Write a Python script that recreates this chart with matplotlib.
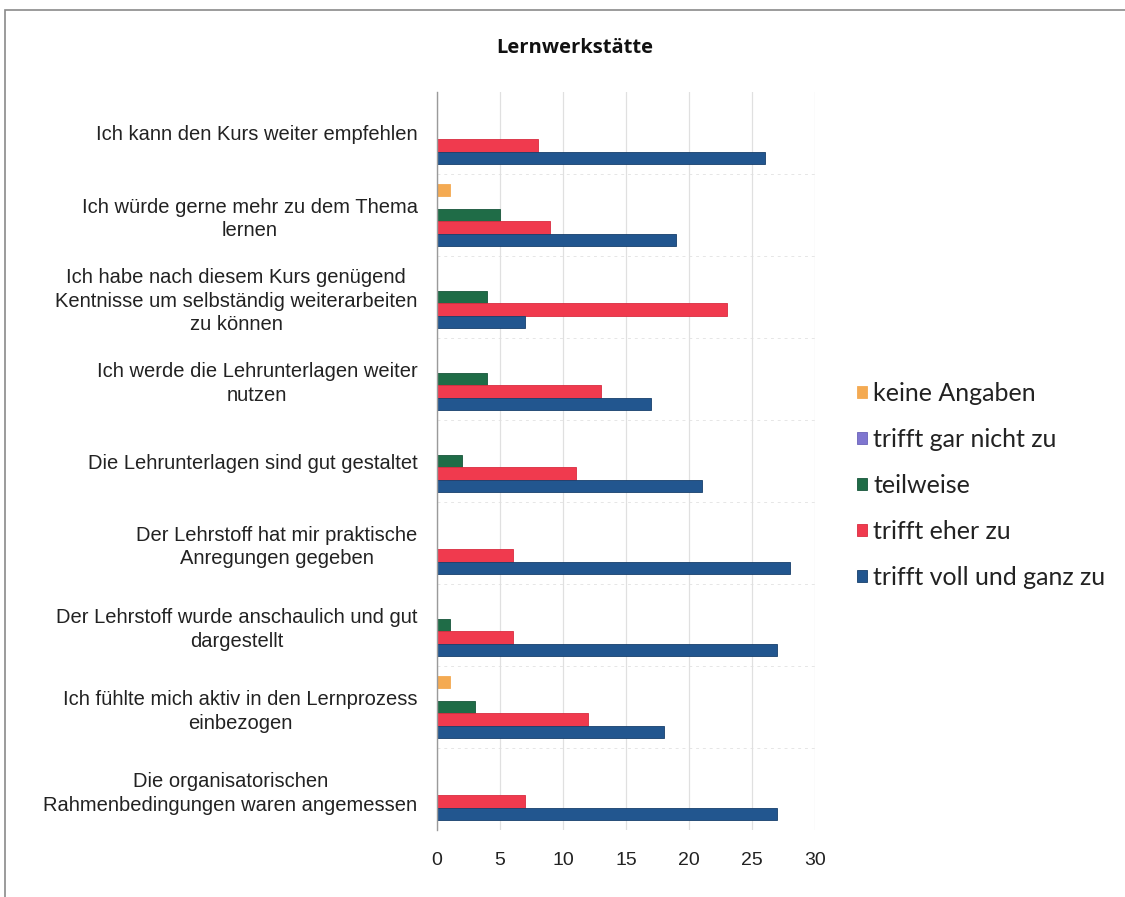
import numpy as np
import matplotlib.pyplot as plt
from matplotlib.patches import Rectangle

# Survey statements, listed top to bottom
statements = [
    "Ich kann den Kurs weiter empfehlen",
    "Ich würde gerne mehr zu dem Thema\nlernen",
    "Ich habe nach diesem Kurs genügend\nKentnisse um selbständig weiterarbeiten\nzu können",
    "Ich werde die Lehrunterlagen weiter\nnutzen",
    "Die Lehrunterlagen sind gut gestaltet",
    "Der Lehrstoff hat mir praktische\nAnregungen gegeben",
    "Der Lehrstoff wurde anschaulich und gut\ndargestellt",
    "Ich fühlte mich aktiv in den Lernprozess\neinbezogen",
    "Die organisatorischen\nRahmenbedingungen waren angemessen",
]

keine_angaben = [0, 1, 0, 0, 0, 0, 0, 1, 0]
gar_nicht = [0, 0, 0, 0, 0, 0, 0, 0, 0]
teilweise = [0, 5, 4, 4, 2, 0, 1, 3, 0]
eher_zu = [8, 9, 23, 13, 11, 6, 6, 12, 7]
voll_zu = [26, 19, 7, 17, 21, 28, 27, 18, 27]

series_names = ["keine Angaben", "trifft gar nicht zu", "teilweise",
                "trifft eher zu", "trifft voll und ganz zu"]
series_vals = [keine_angaben, gar_nicht, teilweise, eher_zu, voll_zu]
colors = ["#F4AA52", "#7F76D0", "#1F6C47", "#F03A4E", "#22568F"]
edges = ["#F4AA52", "#6A62B8", "#17553A", "#D82C40", "#173F6C"]

fig = plt.figure(figsize=(11.25, 8.97), dpi=100)
fig.patch.set_facecolor("white")

# chart-area frame (top and left edges visible)
fig.add_artist(Rectangle((5 / 1125, -0.1), 1.2, 1 - 10 / 897 + 0.1,
                         transform=fig.transFigure, fill=False,
                         edgecolor="#8a8a8a", linewidth=1.2))

ax = fig.add_axes([437 / 1125, 1 - 830 / 897, (815 - 437) / 1125, (830 - 92) / 897])

y = np.arange(len(statements))
h = 0.152
for j, (name, vals) in enumerate(zip(series_names, series_vals)):
    ax.barh(y + (j - 2) * h, vals, height=h, color=colors[j],
            edgecolor=edges[j], linewidth=0.6, label=name)

ax.set_xlim(0, 30)
ax.set_ylim(len(statements) - 0.5, -0.5)
ax.set_xticks(range(0, 31, 5))
ax.set_yticks(y)
ax.set_yticklabels(statements, multialignment="center", linespacing=1.3,
                   fontfamily="Liberation Sans", fontsize=14.5, color="#222222")
ax.tick_params(axis="y", length=0, pad=14)
ax.tick_params(axis="x", length=0, pad=16, labelsize=14, labelcolor="#222222")
for lbl in ax.get_xticklabels():
    lbl.set_fontfamily("Liberation Sans")

# gridlines
ax.grid(axis="x", color="#e0e0e0", linewidth=0.9)
ax.set_axisbelow(True)
for b in np.arange(0.5, len(statements) - 0.5, 1):
    ax.axhline(b, color="#e6e6e6", linewidth=0.7, linestyle=(0, (3, 4)), zorder=0)

for s in ["top", "right", "bottom"]:
    ax.spines[s].set_visible(False)
ax.spines["left"].set_color("#9a9a9a")
ax.spines["left"].set_linewidth(1.0)

fig.text(0.511, 1 - 48 / 897, "Lernwerkstätte", ha="center", va="center",
         fontsize=14.5, fontweight="bold", fontfamily="Open Sans", color="#111111")

leg = fig.legend(loc="upper left", bbox_to_anchor=(847 / 1125, 1 - 372 / 897),
                 frameon=False, prop={"family": "Lato", "size": 18},
                 handlelength=0.4, handleheight=0.4, handletextpad=0.25,
                 labelspacing=0.92, borderaxespad=0)
for t in leg.get_texts():
    t.set_color("#222222")

fig.savefig("out.png", dpi=100, facecolor="white")
